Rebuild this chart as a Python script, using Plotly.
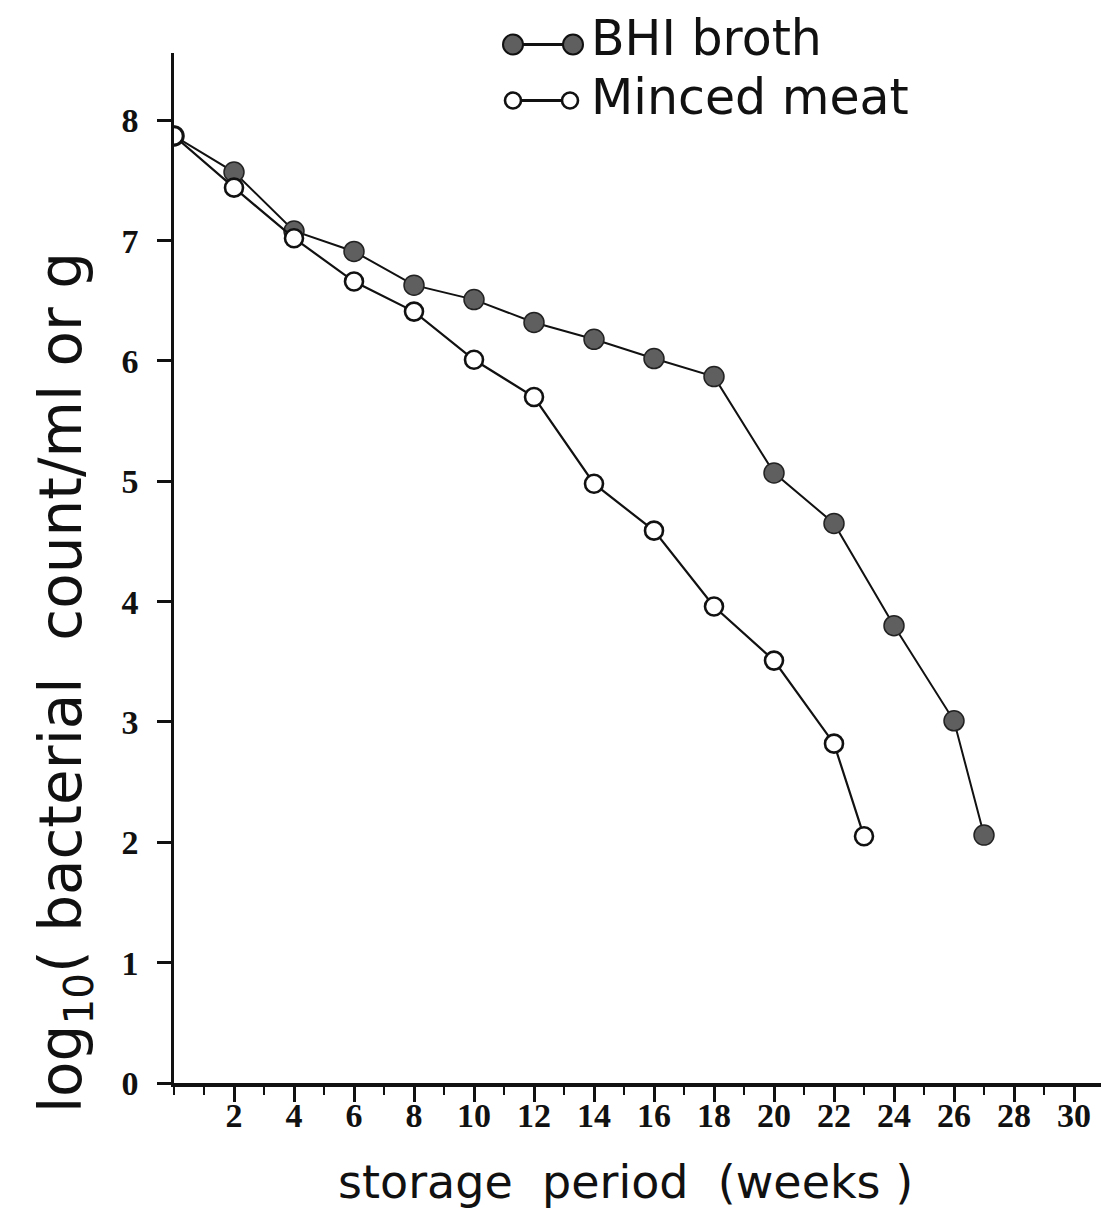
import plotly.graph_objects as go

# ---- data ----
bhi_weeks = [0, 2, 4, 6, 8, 10, 12, 14, 16, 18, 20, 22, 24, 26, 27]
bhi_log = [7.87, 7.57, 7.08, 6.91, 6.63, 6.51, 6.32, 6.18, 6.02, 5.87, 5.07, 4.65, 3.80, 3.01, 2.06]

meat_weeks = [0, 2, 4, 6, 8, 10, 12, 14, 16, 18, 20, 22, 23]
meat_log = [7.87, 7.44, 7.02, 6.66, 6.41, 6.01, 5.70, 4.98, 4.59, 3.96, 3.51, 2.82, 2.05]

x_tickvals = list(range(2, 31, 2))
y_tickvals = list(range(0, 9))

series_names = ["BHI broth", "Minced meat"]

# ---- layout geometry ----
W, H = 1109, 1218
ML, MR, MT, MB = 166, 0, 45, 143
PW, PH = W - ML - MR, H - MT - MB
PX_PER_WEEK = 30.0
PX_PER_UNIT = 120.34


def px(xp):
    return (xp - ML) / PW


def py(yp):
    return (H - MB - yp) / PH


INK = "#111111"
FILL = "#5f5f5f"

fig = go.Figure()
fig.add_trace(go.Scatter(
    x=bhi_weeks, y=bhi_log, mode="lines+markers", name=series_names[0],
    line=dict(color=INK, width=2),
    marker=dict(size=20, color=FILL, line=dict(color="#222222", width=1.5)),
    showlegend=False,
))
fig.add_trace(go.Scatter(
    x=meat_weeks, y=meat_log, mode="lines+markers", name=series_names[1],
    line=dict(color=INK, width=2.2),
    marker=dict(size=18, color="white", line=dict(color=INK, width=2.6)),
    showlegend=False,
))

tick_font = dict(family="Liberation Serif", size=34, color=INK, weight="bold")

fig.update_xaxes(
    range=[0, PW / PX_PER_WEEK],
    tickvals=x_tickvals,
    ticktext=[str(v) for v in x_tickvals],
    ticks="outside", ticklen=15, tickwidth=2.5, tickcolor=INK,
    minor=dict(tick0=0, dtick=1, ticks="outside", ticklen=8, tickwidth=2, tickcolor=INK),
    showline=True, linecolor=INK, linewidth=3.5,
    showgrid=False, zeroline=False,
    tickfont=tick_font, ticklabelstandoff=-16,
)
fig.update_yaxes(
    range=[0, PH / PX_PER_UNIT],
    tickvals=y_tickvals,
    ticktext=[str(v) for v in y_tickvals],
    ticks="outside", ticklen=14, tickwidth=3, tickcolor=INK,
    showline=True, linecolor=INK, linewidth=2.5,
    showgrid=False, zeroline=False,
    tickfont=tick_font, ticklabelstandoff=12,
)

shapes = []
annotations = []

# legend drawn by hand (two circles joined by a line, as in the reference)
leg = [
    dict(y=36.5, x1=505, x2=565, filled=True, r=10, text=series_names[0], ty=30),
    dict(y=92.5, x1=505, x2=562, filled=False, r=8, text=series_names[1], ty=90),
]
for L in leg:
    shapes.append(dict(type="line", xref="paper", yref="paper",
                       x0=px(L["x1"]), x1=px(L["x2"]), y0=py(L["y"]), y1=py(L["y"]),
                       line=dict(color=INK, width=3)))
    for cx in (L["x1"], L["x2"]):
        shapes.append(dict(type="circle", xref="paper", yref="paper",
                           x0=px(cx - L["r"]), x1=px(cx + L["r"]),
                           y0=py(L["y"] + L["r"]), y1=py(L["y"] - L["r"]),
                           fillcolor=FILL if L["filled"] else "white",
                           line=dict(color=INK, width=2 if L["filled"] else 2.6)))
    annotations.append(dict(text=L["text"], xref="paper", yref="paper",
                            x=px(582), y=py(L["ty"]), xanchor="left", yanchor="middle",
                            showarrow=False, borderpad=0,
                            font=dict(family="DejaVu Sans", size=49, color=INK)))

# axis titles
annotations.append(dict(text="storage  period  (weeks )", xref="paper", yref="paper",
                        x=px(617), y=py(1174), xanchor="center", yanchor="middle",
                        showarrow=False,
                        font=dict(family="DejaVu Sans", size=46, color=INK)))
annotations.append(dict(text="log<sub>10</sub>( bacterial  count/ml or g", xref="paper", yref="paper",
                        x=px(57), y=py(675), xanchor="center", yanchor="middle",
                        textangle=-90, showarrow=False,
                        font=dict(family="DejaVu Sans", size=58, color=INK)))

fig.update_layout(
    width=W, height=H,
    margin=dict(l=ML, r=MR, t=MT, b=MB),
    paper_bgcolor="white", plot_bgcolor="white",
    shapes=shapes, annotations=annotations,
    showlegend=False,
)

fig.write_html("out.html")
